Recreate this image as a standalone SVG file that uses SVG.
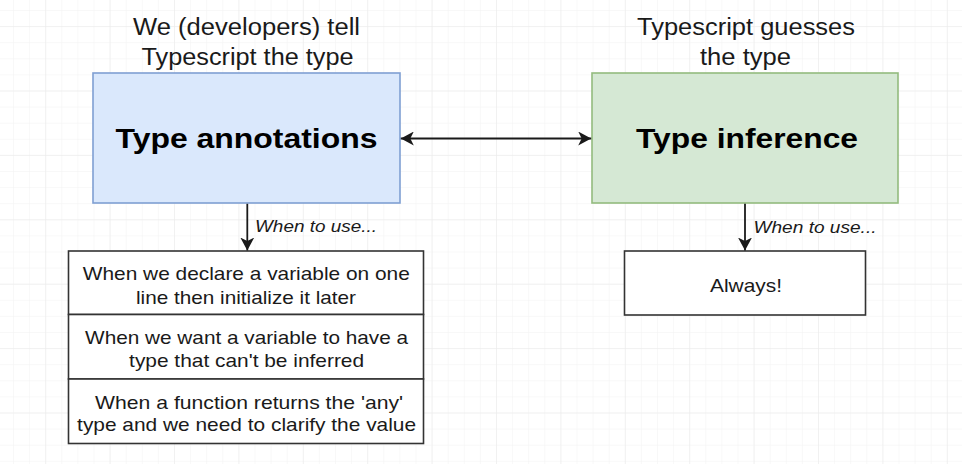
<svg xmlns="http://www.w3.org/2000/svg" width="962" height="464" viewBox="0 0 962 464">
  <style>
    .hdr { font-family: "Liberation Sans", Arial, sans-serif; font-size: 23px; fill: #1a1a1a; text-anchor: middle; }
    .ttl { font-family: "Liberation Sans", Arial, sans-serif; font-size: 28px; font-weight: bold; fill: #000; text-anchor: middle; }
    .lbl { font-family: "Liberation Sans", Arial, sans-serif; font-size: 16.5px; font-style: italic; fill: #1a1a1a; }
    .row { font-family: "Liberation Sans", Arial, sans-serif; font-size: 18.5px; fill: #1a1a1a; text-anchor: middle; }
    .cell { fill: #ffffff; stroke: #333333; stroke-width: 1.6; }
    .edge { fill: none; stroke: #1a1a1a; stroke-width: 1.8; }
  </style>
  <defs>
    <pattern id="gridMinor" patternUnits="userSpaceOnUse" x="13" y="10" width="16.1" height="16.1">
      <path d="M0 0 H16.1 M0 0 V16.1" fill="none" stroke="#f2f2f2" stroke-width="1"/>
    </pattern>
    <pattern id="gridMajor" patternUnits="userSpaceOnUse" x="45.2" y="26.1" width="64.4" height="64.4">
      <path d="M0 0 H64.4 M0 0 V64.4" fill="none" stroke="#eaeaea" stroke-width="1"/>
    </pattern>
    <marker id="arrow" markerUnits="userSpaceOnUse" markerWidth="14" markerHeight="14" refX="13" refY="7" orient="auto-start-reverse">
      <path d="M0 0 L13 7 L0 14 L3.5 7 Z" fill="#1a1a1a"/>
    </marker>
  </defs>

  <!-- canvas with grid -->
  <rect width="962" height="464" fill="#ffffff"/>
  <rect width="962" height="464" fill="url(#gridMinor)"/>
  <rect width="962" height="464" fill="url(#gridMajor)"/>

  <!-- captions above the main boxes -->
  <g id="caption-annotations">
    <text class="hdr" x="246.5" y="35" textLength="227" lengthAdjust="spacingAndGlyphs">We (developers) tell</text>
    <text class="hdr" x="247.5" y="65" textLength="212" lengthAdjust="spacingAndGlyphs">Typescript the type</text>
  </g>
  <g id="caption-inference">
    <text class="hdr" x="746" y="35" textLength="218" lengthAdjust="spacingAndGlyphs">Typescript guesses</text>
    <text class="hdr" x="745.5" y="65" textLength="91" lengthAdjust="spacingAndGlyphs">the type</text>
  </g>

  <!-- main concept boxes -->
  <g id="type-annotations">
    <rect x="93" y="73" width="307" height="130" fill="#dae8fc" stroke="#7f9fd3" stroke-width="1.6"/>
    <text class="ttl" x="246.5" y="148" textLength="262" lengthAdjust="spacingAndGlyphs">Type annotations</text>
  </g>
  <g id="type-inference">
    <rect x="592" y="73" width="306" height="130" fill="#d5e8d4" stroke="#93bb7e" stroke-width="1.6"/>
    <text class="ttl" x="747" y="148" textLength="222" lengthAdjust="spacingAndGlyphs">Type inference</text>
  </g>

  <!-- usage list for annotations -->
  <g id="annotations-uses">
    <rect class="cell" x="68.5" y="251" width="355" height="63.5"/>
    <rect class="cell" x="68.5" y="314.5" width="355" height="64.5"/>
    <rect class="cell" x="68.5" y="379" width="355" height="64.5"/>
    <text class="row" x="246.3" y="280" textLength="327" lengthAdjust="spacingAndGlyphs">When we declare a variable on one</text>
    <text class="row" x="246" y="303.5" textLength="220" lengthAdjust="spacingAndGlyphs">line then initialize it later</text>
    <text class="row" x="246.6" y="343.5" textLength="323" lengthAdjust="spacingAndGlyphs">When we want a variable to have a</text>
    <text class="row" x="246.6" y="367" textLength="235" lengthAdjust="spacingAndGlyphs">type that can't be inferred</text>
    <text class="row" x="249.1" y="408.5" textLength="308" lengthAdjust="spacingAndGlyphs">When a function returns the 'any'</text>
    <text class="row" x="246.6" y="431" textLength="339" lengthAdjust="spacingAndGlyphs">type and we need to clarify the value</text>
  </g>

  <!-- usage for inference -->
  <g id="inference-uses">
    <rect class="cell" x="624.5" y="251" width="241" height="64"/>
    <text class="row" x="746" y="292" textLength="72" lengthAdjust="spacingAndGlyphs">Always!</text>
  </g>

  <!-- connectors -->
  <g id="connectors">
    <line class="edge" x1="400.8" y1="138.5" x2="591.2" y2="138.5" marker-start="url(#arrow)" marker-end="url(#arrow)"/>
    <line class="edge" x1="247.3" y1="203.8" x2="247.3" y2="250.5" marker-end="url(#arrow)"/>
    <text class="lbl" x="255" y="232" textLength="122" lengthAdjust="spacingAndGlyphs">When to use...</text>
    <line class="edge" x1="745" y1="203.8" x2="745" y2="250.5" marker-end="url(#arrow)"/>
    <text class="lbl" x="753.5" y="233" textLength="123" lengthAdjust="spacingAndGlyphs">When to use...</text>
  </g>
</svg>
